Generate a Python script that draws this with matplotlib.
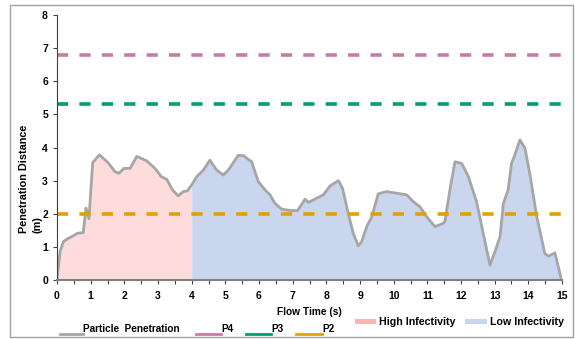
import numpy as np
import matplotlib
matplotlib.use("Agg")
import matplotlib.pyplot as plt
from matplotlib.lines import Line2D
from matplotlib.patches import Rectangle

plt.rcParams['font.family'] = ['Liberation Sans', 'DejaVu Sans']
plt.rcParams['font.weight'] = 'bold'

# particle penetration curve
flow_time = [0, 0.09, 0.19, 0.34, 0.48, 0.6, 0.78, 0.86, 0.95, 1.06, 1.26, 1.52,
             1.72, 1.84, 1.99, 2.17, 2.37, 2.66, 2.91, 3.1, 3.26, 3.43, 3.6, 3.75,
             3.87, 4.0, 4.15, 4.35, 4.54, 4.74, 4.94, 5.09, 5.38, 5.53, 5.78, 5.98,
             6.18, 6.33, 6.47, 6.67, 6.92, 7.14, 7.37, 7.47, 7.71, 7.91, 8.11, 8.36,
             8.48, 8.65, 8.8, 8.95, 9.05, 9.2, 9.35, 9.54, 9.79, 10.09, 10.39, 10.58,
             10.78, 10.98, 11.23, 11.47, 11.52, 11.67, 11.82, 12.02, 12.22, 12.46,
             12.66, 12.86, 13.01, 13.16, 13.26, 13.4, 13.5, 13.6, 13.75, 13.9, 14.05,
             14.25, 14.49, 14.6, 14.79, 14.96, 15.0]
penetration = [0, 0.86, 1.16, 1.26, 1.33, 1.41, 1.43, 2.17, 1.85, 3.54, 3.78, 3.54,
               3.27, 3.22, 3.37, 3.37, 3.73, 3.6, 3.37, 3.12, 3.04, 2.72, 2.54, 2.67,
               2.69, 2.87, 3.12, 3.32, 3.62, 3.32, 3.17, 3.32, 3.76, 3.76, 3.57, 2.97,
               2.72, 2.57, 2.32, 2.14, 2.1, 2.09, 2.44, 2.34, 2.47, 2.57, 2.84, 3.0,
               2.77, 2.01, 1.41, 1.03, 1.16, 1.61, 1.91, 2.6, 2.67, 2.62, 2.57, 2.37,
               2.21, 1.91, 1.61, 1.71, 1.76, 2.72, 3.57, 3.52, 3.12, 2.37,
               1.41, 0.45, 0.86, 1.31, 2.32, 2.72, 3.52, 3.78, 4.23, 3.98, 3.17,
               1.91, 0.8, 0.72, 0.82, 0.1, 0.0]

# threshold levels
levels = [6.8, 5.3, 2.0]
level_names = ['P4', 'P3', 'P2']
level_colors = ['#CC79A7', '#009E73', '#E69F00']

high_end = 4.0  # end of high infectivity phase

x = np.array(flow_time)
y = np.array(penetration)

W, H = 575, 339
fig = plt.figure(figsize=(W / 100, H / 100), dpi=100)
ax = fig.add_axes([57 / W, 1 - 280 / H, 505 / W, 265 / H])

ax.fill_between(x, y, where=x <= high_end, color='#FFDCDC', lw=0)
ax.fill_between(x, y, where=x >= high_end, color='#C9D6EE', lw=0)
ax.plot(x, y, color='#A6A6A6', lw=2)

for lev, col in zip(levels, level_colors):
    ax.axhline(lev, color=col, lw=2.6, dashes=(3.1, 3.1))

ax.set_xlim(0, 15)
ax.set_ylim(0, 8)
ax.set_xticks(range(0, 16))
ax.set_xticks(np.arange(0.5, 15, 1), minor=True)
ax.set_yticks(range(0, 9))
ax.tick_params(axis='x', which='both', length=3, width=0.8, color='#404040',
               pad=5, labelsize=7.5)
ax.tick_params(axis='y', length=3, width=0.8, color='#404040', labelsize=7.5)
for s in ['top', 'right']:
    ax.spines[s].set_visible(False)
ax.spines['bottom'].set_color('#808080')
ax.spines['bottom'].set_linewidth(1.5)
ax.spines['left'].set_color('#404040')
ax.spines['left'].set_linewidth(0.8)

fig.text(309 / W, 1 - 312 / H, 'Flow Time (s)', ha='center', va='center',
         fontsize=7.3, fontweight='bold')
fig.text(31 / W, 1 - 179 / H, 'Penetration Distance\n(m)', rotation=90,
         ha='center', va='center', multialignment='left', fontsize=7.8,
         linespacing=1.4, fontweight='bold')

# legend, drawn by hand to follow the original layout
key_lines = [(60, 83, '#A6A6A6', 'Particle  Penetration'),
             (196, 221, level_colors[0], level_names[0]),
             (246, 271, level_colors[1], level_names[1]),
             (296, 322, level_colors[2], level_names[2])]
for x0, x1, col, lab in key_lines:
    fig.add_artist(Line2D([x0 / W, x1 / W], [1 - 334 / H, 1 - 334 / H],
                          transform=fig.transFigure, color=col, lw=2))
    fig.text(x1 / W, 1 - 329 / H, lab, ha='left', va='center', fontsize=7.2,
             fontweight='bold')

key_patches = [(355, 376, '#FFB3B3', 'High Infectivity'),
               (465, 487, '#C9D6EE', 'Low Infectivity')]
for x0, x1, col, lab in key_patches:
    fig.add_artist(Rectangle((x0 / W, 1 - 324 / H), (x1 - x0) / W, 5 / H,
                             transform=fig.transFigure, color=col, lw=0))
    fig.text((x1 + 3) / W, 1 - 322 / H, lab, ha='left', va='center',
             fontsize=7.7, fontweight='bold')

fig.add_artist(Rectangle((10 / W, 2 / H), 563 / W, 332 / H,
                         transform=fig.transFigure, fill=False,
                         edgecolor='#A0A0A0', lw=1))

fig.savefig('out.png', dpi=100)
